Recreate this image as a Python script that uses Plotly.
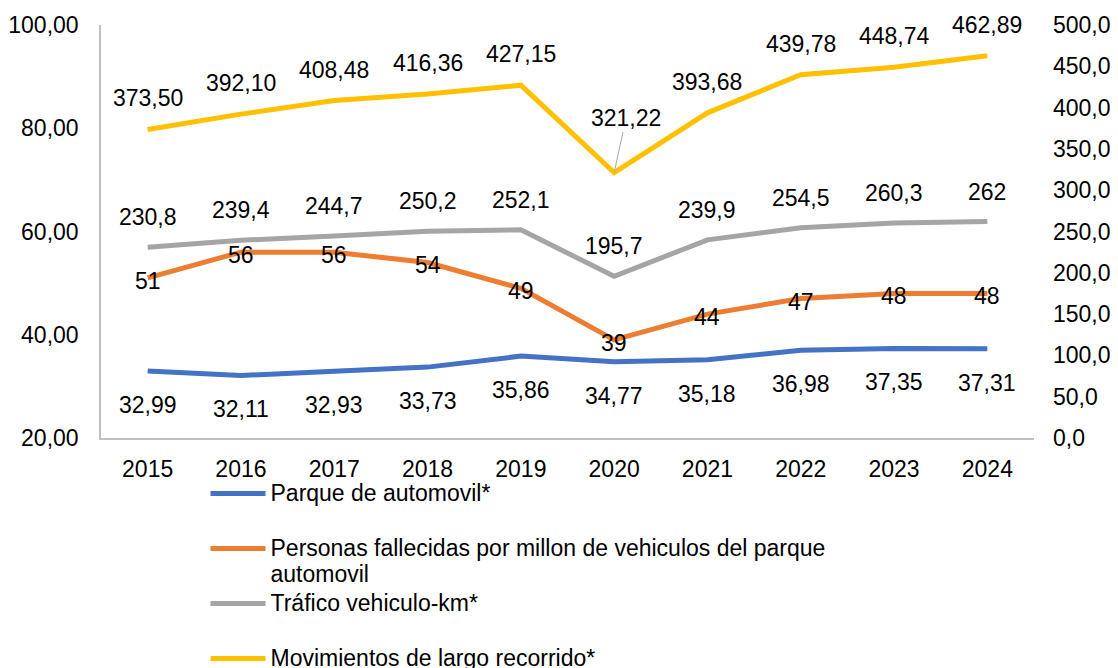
import plotly.graph_objects as go

# data
years = ["2015", "2016", "2017", "2018", "2019", "2020", "2021", "2022", "2023", "2024"]
parque = [32.99, 32.11, 32.93, 33.73, 35.86, 34.77, 35.18, 36.98, 37.35, 37.31]
fallecidos = [51, 56, 56, 54, 49, 39, 44, 47, 48, 48]
trafico = [230.8, 239.4, 244.7, 250.2, 252.1, 195.7, 239.9, 254.5, 260.3, 262]
movimientos = [373.50, 392.10, 408.48, 416.36, 427.15, 321.22, 393.68, 439.78, 448.74, 462.89]

names = [
    "Parque de automovil*",
    "Personas fallecidas por millon de vehiculos del parque<br>automovil",
    "Tráfico vehiculo-km*",
    "Movimientos de largo recorrido*",
]
colors = ["#4472C4", "#ED7D31", "#A5A5A5", "#FFC000"]

FONT = "Arial, Liberation Sans, sans-serif"


def legend_text(s):
    # bigger glyphs, line spacing still taken from the legend font
    lines = s.split("<br>")
    if len(lines) == 1:
        lines.append(" ")
    return "<br>".join("<span style='font-size:23px'>%s</span>" % l for l in lines)


def fmt(v, nd):
    if nd is None:
        return ("%g" % v).replace(".", ",")
    return ("%.*f" % (nd, v)).replace(".", ",")


fig = go.Figure()
series = [(parque, "y"), (fallecidos, "y"), (trafico, "y2"), (movimientos, "y2")]
for (vals, ax), name, col in zip(series, names, colors):
    fig.add_trace(go.Scatter(
        x=years, y=vals, yaxis=ax, mode="lines", name=legend_text(name),
        line=dict(color=col, width=5), hoverinfo="skip",
    ))

# data labels (x given as category index)
annotations = []
label_specs = [
    (parque, "y", 2, -34),
    (fallecidos, "y", None, -3),
    (trafico, "y2", None, 30),
    (movimientos, "y2", 2, 31),
]
for vals, ax, nd, shift in label_specs:
    for i, v in enumerate(vals):
        a = dict(x=i, y=v, xref="x", yref=ax, text=fmt(v, nd),
                 showarrow=False, yshift=shift,
                 font=dict(family=FONT, size=23, color="#000000"))
        if vals is movimientos and years[i] == "2020":
            a.update(showarrow=True, yshift=0, ax=12, ay=-55, arrowhead=0,
                     arrowwidth=1, arrowcolor="#A5A5A5", standoff=0)
        annotations.append(a)

# page body has an 8px margin, so the figure is 8px smaller than the window
fig.update_layout(
    width=1110, height=660,
    margin=dict(l=93, r=84, t=17, b=230, autoexpand=False),
    paper_bgcolor="white", plot_bgcolor="white",
    separators=",.",
    font=dict(family=FONT, size=23, color="#000000"),
    showlegend=True,
    legend=dict(
        x=0.112, y=-0.087, xanchor="left", yanchor="top",
        orientation="v", valign="top", itemwidth=55,
        font=dict(family=FONT, size=20, color="#000000"),
        tracegroupgap=0, bgcolor="rgba(0,0,0,0)",
    ),
    annotations=annotations,
    xaxis=dict(
        type="category", range=[-0.5, 9.5], showgrid=False, zeroline=False,
        showline=True, linecolor="#BFBFBF", linewidth=1.5, ticks="",
        ticklabelstandoff=10, tickfont=dict(size=23), automargin=False,
    ),
    yaxis=dict(
        range=[20, 100], dtick=20, tickformat=".2f", showgrid=False,
        zeroline=False, showline=True, linecolor="#BFBFBF", linewidth=1.5,
        ticks="", ticklabelstandoff=16, tickfont=dict(size=23), automargin=False,
    ),
    yaxis2=dict(
        range=[0, 500], dtick=50, tickformat=".1f", overlaying="y",
        side="right", showgrid=False, zeroline=False, showline=False,
        ticks="", ticklabelstandoff=18, tickfont=dict(size=23), automargin=False,
    ),
)

fig.write_html("out.html")
